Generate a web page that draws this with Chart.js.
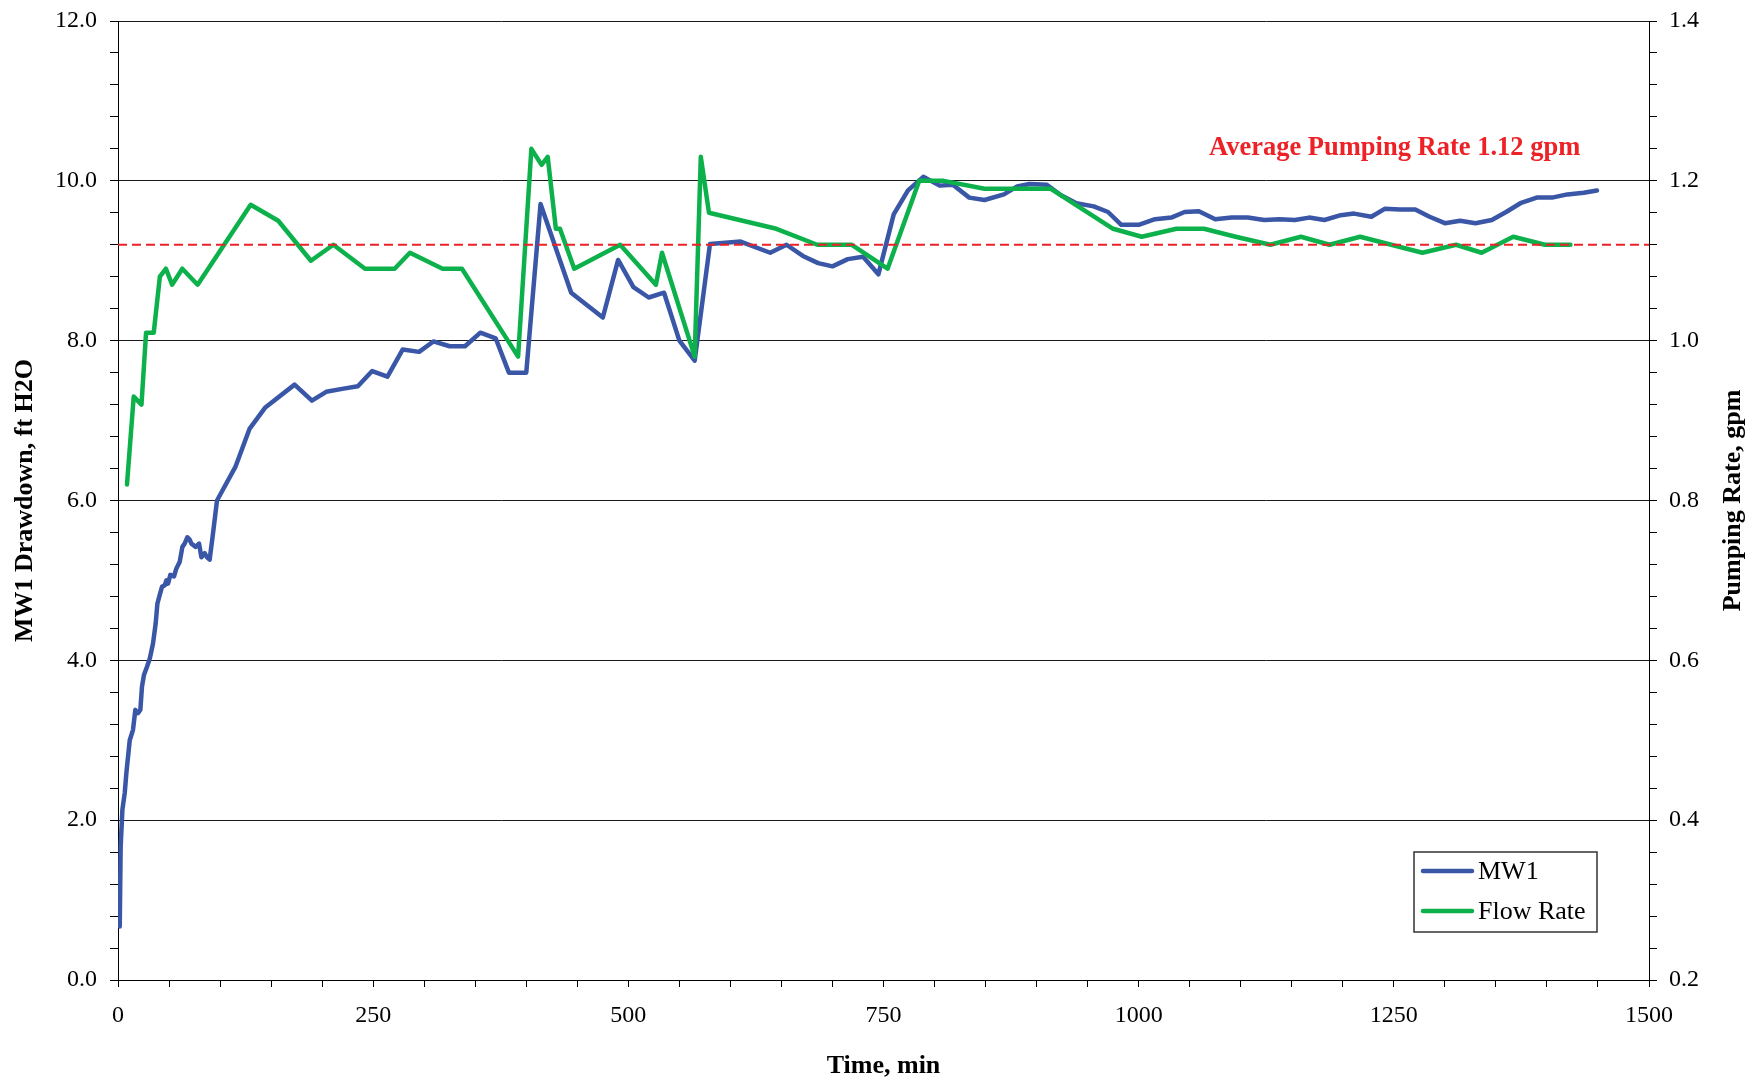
<!DOCTYPE html>
<html lang="en">
<head>
    <meta charset="UTF-8">
    <title>MW1 Drawdown and Pumping Rate</title>
    <script src="https://cdn.jsdelivr.net/npm/chart.js"></script>
    <style>
        body { margin: 0; background: #fff; }
        canvas { display: block; }
    </style>
</head>
<body>
    <canvas id="pumpChart" width="1763" height="1084"></canvas>
    <script>
        // MW1 drawdown (ft H2O) vs time (min)
        const mw1Time = [1.7, 2.6, 4.3, 6.6, 8.2, 9.8, 11.5, 14.7, 17, 19.6, 21.9, 23.5, 25.5, 28.4, 31.1, 34.3, 36.9, 38.6, 40.9, 43.1,
            45.8, 47.4, 49, 51.3, 54.9, 57.2, 60.4, 63.1, 65.3, 68, 70.2, 71.9, 76.1, 79.4, 81.7, 85, 87.2, 89.8, 93.1, 97,
            115, 129, 144, 173, 190, 204, 221, 235, 249, 264, 279, 295, 309, 325, 340, 355, 370, 383, 400, 414,
            444, 475, 490, 505, 520, 535, 550, 565, 580, 610, 639, 655, 671, 686, 700, 715, 730, 745, 760, 774,
            789, 805, 818, 834, 849, 868, 881, 893, 910, 924, 939, 956, 970, 983, 1000, 1016, 1032, 1045, 1059, 1075,
            1091, 1107, 1123, 1138, 1153, 1167, 1182, 1198, 1211, 1228, 1241, 1256, 1271, 1285, 1300, 1315, 1330, 1346, 1360, 1374,
            1390, 1405, 1420, 1436, 1449];
        const mw1Drawdown = [0.67, 1.67, 2.13, 2.34, 2.59, 2.79, 3.0, 3.13, 3.38, 3.34, 3.38, 3.67, 3.82, 3.92, 4.02, 4.21, 4.46, 4.71, 4.82, 4.92,
            4.94, 5.0, 4.96, 5.07, 5.05, 5.15, 5.23, 5.42, 5.46, 5.54, 5.51, 5.46, 5.42, 5.46, 5.29, 5.34, 5.29, 5.26, 5.59, 6.0,
            6.42, 6.9, 7.16, 7.45, 7.25, 7.36, 7.4, 7.43, 7.62, 7.55, 7.89, 7.86, 7.99, 7.93, 7.93, 8.1, 8.03, 7.6, 7.6, 9.71,
            8.6, 8.29, 9.01, 8.67, 8.54, 8.6, 8.0, 7.75, 9.21, 9.24, 9.1, 9.2, 9.06, 8.97, 8.93, 9.02, 9.05, 8.83, 9.58, 9.88,
            10.05, 9.94, 9.95, 9.79, 9.76, 9.83, 9.93, 9.96, 9.95, 9.82, 9.72, 9.68, 9.61, 9.45, 9.45, 9.52, 9.54, 9.61, 9.62, 9.52,
            9.54, 9.54, 9.51, 9.52, 9.51, 9.54, 9.51, 9.57, 9.59, 9.55, 9.65, 9.64, 9.64, 9.55, 9.47, 9.5, 9.47, 9.51, 9.61, 9.72,
            9.79, 9.79, 9.83, 9.85, 9.88];

        // pumping rate (gpm) vs time (min)
        const flowTime = [8.8, 15.4, 23, 27.5, 35, 41, 47, 53, 63, 78, 130, 157, 189, 211, 242, 271, 286, 318, 337, 392,
            405, 415, 421, 429, 433, 447, 492, 527, 533, 565, 571, 579, 645, 685, 719, 754, 785, 809, 849, 914,
            975, 1003, 1037, 1064, 1095, 1129, 1159, 1187, 1217, 1278, 1311, 1336, 1367, 1398, 1423];
        const flowRate = [0.82, 0.93, 0.92, 1.01, 1.01, 1.08, 1.09, 1.07, 1.09, 1.07, 1.17, 1.15, 1.10, 1.12, 1.09, 1.09, 1.11, 1.09, 1.09, 0.98,
            1.24, 1.22, 1.23, 1.14, 1.14, 1.09, 1.12, 1.07, 1.11, 0.98, 1.23, 1.16, 1.14, 1.12, 1.12, 1.09, 1.20, 1.20, 1.19, 1.19,
            1.14, 1.13, 1.14, 1.14, 1.13, 1.12, 1.13, 1.12, 1.13, 1.11, 1.12, 1.11, 1.13, 1.12, 1.12];

        const avgRate = 1.12;
        const avgLineTime = [0, 1500];

        const leftTicks = { min: 0, max: 12, major: 2, minor: 0.4 };
        const rightTicks = { min: 0.2, max: 1.4, major: 0.2, minor: 0.04 };
        const timeTicks = { min: 0, max: 1500, major: 250, minor: 50 };

        const serif = '"Liberation Serif", "Times New Roman", serif';
        const blue = '#3a56a6';
        const green = '#0db14b';
        const red = '#ec2227';

        function toPoints(xs, ys) {
            return xs.map((x, i) => ({ x: x, y: ys[i] }));
        }

        function isMajor(v, base, step) {
            const r = (v - base) / step;
            return Math.abs(r - Math.round(r)) < 1e-6;
        }

        // fixed axis sizes so the plot box lands where the original has it
        function fixWidth(w) {
            return scale => {
                scale.width = w;
                scale.paddingTop = 0;
                scale.paddingBottom = 0;
            };
        }

        // titles, note and legend drawn on top of the chart
        const extrasPlugin = {
            id: 'extras',
            afterDraw(chart) {
                const ctx = chart.ctx;
                const area = chart.chartArea;
                const midY = (area.top + area.bottom) / 2;
                ctx.save();
                ctx.fillStyle = '#000';
                ctx.font = 'bold 26px ' + serif;
                ctx.textAlign = 'center';
                ctx.textBaseline = 'middle';

                ctx.fillText('Time, min', (area.left + area.right) / 2, 1066);

                ctx.save();
                ctx.translate(25, midY);
                ctx.rotate(-Math.PI / 2);
                ctx.fillText('MW1 Drawdown, ft H2O', 0, 0);
                ctx.restore();

                ctx.save();
                ctx.translate(1733, midY);
                ctx.rotate(-Math.PI / 2);
                ctx.fillText('Pumping Rate, gpm', 0, 0);
                ctx.restore();

                ctx.fillStyle = red;
                ctx.textAlign = 'left';
                ctx.font = 'bold 26.5px ' + serif;
                ctx.fillText('Average Pumping Rate ' + avgRate.toFixed(2) + ' gpm', 1209, 148);

                // legend
                const box = { x: 1414, y: 852, w: 183, h: 80 };
                ctx.fillStyle = '#fff';
                ctx.fillRect(box.x, box.y, box.w, box.h);
                ctx.strokeStyle = '#333';
                ctx.lineWidth = 1.5;
                ctx.strokeRect(box.x, box.y, box.w, box.h);

                const items = [
                    { label: 'MW1', color: blue, y: 871 },
                    { label: 'Flow Rate', color: green, y: 911 }
                ];
                ctx.font = '26px ' + serif;
                ctx.lineCap = 'round';
                ctx.lineWidth = 4.5;
                items.forEach(item => {
                    ctx.strokeStyle = item.color;
                    ctx.beginPath();
                    ctx.moveTo(1423, item.y);
                    ctx.lineTo(1472, item.y);
                    ctx.stroke();
                    ctx.fillStyle = '#000';
                    ctx.fillText(item.label, 1478, item.y + 1);
                });
                ctx.restore();
            }
        };

        const ctx = document.getElementById('pumpChart').getContext('2d');
        const pumpChart = new Chart(ctx, {
            type: 'line',
            data: {
                datasets: [
                    {
                        label: 'Average Pumping Rate',
                        data: toPoints(avgLineTime, [avgRate, avgRate]),
                        yAxisID: 'y1',
                        borderColor: red,
                        borderWidth: 2,
                        borderDash: [9, 5],
                        pointRadius: 0,
                        order: 0
                    },
                    {
                        label: 'Flow Rate',
                        data: toPoints(flowTime, flowRate),
                        yAxisID: 'y1',
                        borderColor: green,
                        borderWidth: 4.5,
                        borderJoinStyle: 'round',
                        borderCapStyle: 'round',
                        pointRadius: 0,
                        tension: 0,
                        order: 1
                    },
                    {
                        label: 'MW1',
                        data: toPoints(mw1Time, mw1Drawdown),
                        yAxisID: 'y',
                        borderColor: blue,
                        borderWidth: 4.5,
                        borderJoinStyle: 'round',
                        borderCapStyle: 'round',
                        pointRadius: 0,
                        tension: 0,
                        order: 2
                    }
                ]
            },
            options: {
                responsive: false,
                animation: false,
                layout: { padding: { top: 21, left: 0, right: 0, bottom: 0 } },
                plugins: {
                    legend: { display: false },
                    tooltip: { enabled: false }
                },
                scales: {
                    x: {
                        type: 'linear',
                        position: 'bottom',
                        min: timeTicks.min,
                        max: timeTicks.max,
                        border: { color: '#000', width: 1 },
                        grid: { drawOnChartArea: false, color: '#000', tickLength: 7 },
                        ticks: {
                            stepSize: timeTicks.minor,
                            autoSkip: false,
                            maxRotation: 0,
                            padding: 14,
                            color: '#000',
                            font: { family: serif, size: 24 },
                            callback: v => isMajor(v, 0, timeTicks.major) ? String(v) : ''
                        },
                        afterFit: scale => { scale.height = 104; }
                    },
                    y: {
                        position: 'left',
                        min: leftTicks.min,
                        max: leftTicks.max,
                        border: { color: '#000', width: 1 },
                        grid: {
                            color: c => isMajor(c.tick.value, 0, leftTicks.major) ? '#1a1a1a' : 'rgba(0,0,0,0)',
                            tickColor: '#000',
                            tickLength: 8
                        },
                        ticks: {
                            stepSize: leftTicks.minor,
                            autoSkip: false,
                            padding: 13,
                            color: '#000',
                            font: { family: serif, size: 24 },
                            callback: v => isMajor(v, 0, leftTicks.major) ? v.toFixed(1) : ''
                        },
                        afterFit: fixWidth(118)
                    },
                    y1: {
                        position: 'right',
                        min: rightTicks.min,
                        max: rightTicks.max,
                        border: { color: '#000', width: 1 },
                        grid: { drawOnChartArea: false, color: '#000', tickLength: 8 },
                        ticks: {
                            stepSize: rightTicks.minor,
                            autoSkip: false,
                            padding: 12,
                            color: '#000',
                            font: { family: serif, size: 24 },
                            callback: v => isMajor(v, rightTicks.min, rightTicks.major) ? v.toFixed(1) : ''
                        },
                        afterFit: fixWidth(114)
                    }
                }
            },
            plugins: [extrasPlugin]
        });
    </script>
</body>
</html>
